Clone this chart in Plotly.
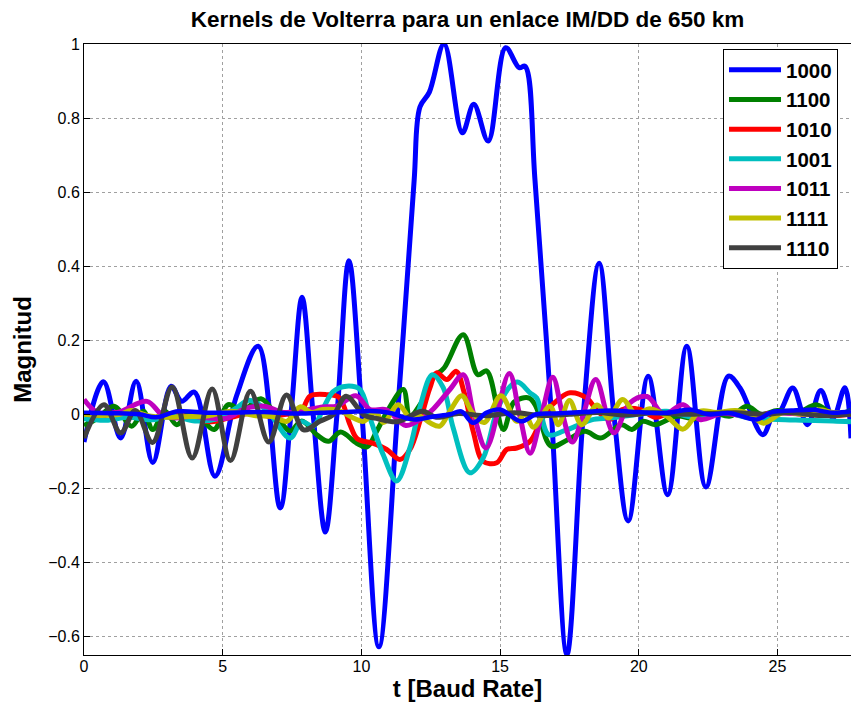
import plotly.graph_objects as go

# ---------------- data ----------------
names = ["1000", "1100", "1010", "1001", "1011", "1111", "1110"]
colors = ["#0000FF", "#008000", "#FF0000", "#00BFBF", "#BF00BF", "#BFBF00", "#404040"]

t_1000 = [0, 0.7, 1.32, 1.88, 2.48, 3.14, 3.52, 3.98, 4.72, 5.5, 6.28, 7.07, 7.46, 7.86, 8.26, 8.7,
          9.12, 9.55, 10.02, 10.63, 11.3, 11.9, 12.11, 12.45, 12.98, 13.64, 14.05, 14.57, 15.2,
          15.69, 15.9, 16.26, 16.85, 17.41, 18.0, 18.57, 19.1, 19.62, 20.34, 21.04, 21.73, 22.42,
          23.23, 23.65, 24.47, 24.85, 25.09, 25.55, 26.08, 26.56, 27.0, 27.43, 27.65]
y_1000 = [-0.075, 0.088, -0.064, 0.089, -0.13, 0.076, 0.035, 0.06, -0.167, 0.05, 0.184, -0.253, 0.0,
          0.316, 0.0, -0.318, 0.0, 0.415, 0.0, -0.628, 0.0, 0.63, 0.83, 0.87, 1.0, 0.76, 0.837, 0.738,
          0.99, 0.936, 0.94, 0.63, 0.0, -0.648, 0.0, 0.408, 0.0, -0.288, 0.103, -0.217, 0.184, -0.196,
          0.103, 0.071, -0.055, 0.0, 0.008, 0.071, -0.028, 0.064, -0.01, 0.072, -0.065]

t_1100 = [0, 0.5, 1.08, 1.72, 2.14, 2.48, 2.92, 3.34, 3.8, 4.2, 4.69, 5.2, 5.7, 6.38, 6.9, 7.43, 7.85,
          8.39, 8.81, 9.25, 9.83, 10.2, 10.55, 10.97, 11.51, 11.75, 12.15, 12.6, 12.98, 13.67, 14.2,
          14.52, 15.12, 15.5, 16.05, 16.3, 16.84, 17.46, 18.06, 18.62, 19.38, 19.75, 20.15, 20.6,
          21.37, 22.0, 22.6, 23.3, 23.9, 24.4, 25.0, 25.7, 26.4, 27.0, 27.65]
y_1100 = [-0.03, -0.01, 0.022, -0.032, 0.008, -0.041, 0.008, -0.028, 0.005, -0.01, -0.041, 0.026, 0.01,
          0.042, 0.0, -0.045, -0.018, -0.055, -0.073, -0.048, -0.078, -0.088, -0.046, 0.013, 0.067,
          -0.005, 0.03, 0.1, 0.125, 0.215, 0.107, 0.117, -0.041, 0.033, 0.044, 0.02, -0.086, -0.068,
          -0.046, -0.064, -0.028, -0.041, -0.019, -0.028, -0.005, -0.012, 0.005, -0.005, 0.022, 0.0,
          0.01, 0.003, 0.026, 0.0, 0.01]

t_1010 = [0, 0.6, 1.2, 1.8, 2.5, 3.2, 3.9, 4.6, 5.3, 6.0, 6.7, 7.3, 7.8, 8.15, 8.75, 9.2, 9.59, 9.85,
          10.4, 10.91, 11.39, 11.75, 12.11, 12.47, 12.71, 13.08, 13.42, 13.7, 14.03, 14.39, 14.88,
          15.24, 15.6, 16.08, 16.4, 16.68, 17.16, 17.52, 18.12, 18.5, 18.96, 19.4, 20.04, 20.6, 21.2,
          22, 23, 24, 25, 26, 27, 27.65]
y_1010 = [0.0, -0.005, 0.005, -0.003, -0.01, 0.003, -0.012, -0.02, -0.008, 0.003, -0.005, 0.0, 0.005,
          0.049, 0.053, 0.045, -0.028, -0.066, -0.078, -0.095, -0.122, -0.095, -0.019, 0.071, 0.112,
          0.094, 0.116, 0.06, -0.046, -0.127, -0.131, -0.095, -0.091, -0.073, -0.03, 0.008, 0.044,
          0.058, 0.044, 0.01, -0.014, 0.013, 0.013, -0.008, 0.005, -0.005, 0.004, -0.006, 0.005, 0.0,
          -0.004, 0.0]

t_1001 = [0, 0.8, 1.6, 2.4, 3.2, 4.0, 4.8, 5.5, 5.95, 6.6, 7.43, 7.85, 8.27, 8.63, 8.99, 9.47, 9.95,
          10.31, 10.79, 11.27, 11.75, 12.11, 12.56, 12.95, 13.31, 13.91, 14.39, 14.88, 15.3, 15.63,
          16.08, 16.32, 16.75, 17.3, 17.8, 18.3, 19, 20, 21, 22, 23, 24, 25, 26, 27, 27.65]
y_1001 = [-0.012, -0.016, -0.008, -0.015, -0.005, -0.018, -0.012, 0.017, 0.038, 0.01, -0.064, -0.02,
          -0.032, 0.017, 0.062, 0.076, 0.067, -0.01, -0.11, -0.18, -0.09, 0.02, 0.107, 0.072, -0.037,
          -0.158, -0.118, 0.008, 0.07, 0.087, 0.058, 0.044, -0.055, -0.045, -0.03, -0.015, -0.01, 0.0,
          0.008, -0.008, 0.005, -0.01, -0.014, -0.016, -0.018, -0.02]

t_1011 = [0, 0.47, 1.2, 2.27, 2.8, 3.3, 3.85, 4.5, 5.17, 5.8, 6.49, 7.2, 7.9, 8.6, 9.11, 9.8, 10.31,
          10.9, 11.6, 12.2, 12.6, 13.19, 13.67, 14.05, 14.5, 15.33, 15.7, 16.08, 16.5, 16.9, 17.25,
          17.6, 18.0, 18.45, 19.1, 19.68, 20.3, 20.9, 21.6, 22.2, 23, 24, 25, 26, 27, 27.65]
y_1011 = [0.04, 0.006, 0.005, 0.035, 0.0, -0.01, -0.005, -0.01, -0.01, 0.015, 0.022, 0.005, 0.01, 0.02,
          0.022, 0.05, 0.013, 0.012, -0.03, -0.01, 0.015, 0.067, 0.107, 0.0, -0.091, 0.11, 0.0,
          -0.105, 0.0, 0.1, 0.0, -0.075, 0.0, 0.094, -0.05, 0.031, 0.048, 0.0, 0.026, -0.014, 0.002,
          -0.005, 0.004, 0.0, 0.003, 0.0]

t_1111 = [0, 0.6, 1.3, 1.7, 2.3, 3.0, 3.8, 4.5, 5.3, 6.2, 6.8, 7.31, 7.79, 8.2, 8.6, 9.2, 9.71, 10.07,
          10.5, 10.8, 11.33, 11.8, 12.1, 12.47, 12.83, 13.2, 13.62, 14.0, 14.43, 15.03, 15.6, 15.9,
          16.2, 16.8, 17.1, 17.5, 17.94, 18.5, 18.9, 19.42, 19.9, 20.4, 21.0, 21.6, 22.2, 22.8, 23.5,
          24.0, 24.5, 25.2, 26, 26.5, 27, 27.65]
y_1111 = [0.0, -0.003, 0.0, 0.01, -0.004, -0.008, -0.006, -0.004, 0.008, -0.004, -0.006, -0.019, 0.02,
          0.005, 0.013, 0.01, -0.01, -0.019, 0.005, -0.022, 0.026, -0.014, -0.005, -0.023, -0.032,
          0.01, 0.05, 0.005, -0.022, 0.05, -0.019, 0.0, -0.035, 0.022, -0.028, 0.037, -0.028, 0.025,
          -0.01, 0.04, 0.0, 0.015, -0.005, -0.04, 0.008, 0.005, 0.01, 0.0, -0.024, 0.005, 0.0, 0.012,
          0.005, 0.005]

t_1110 = [0, 0.72, 1.32, 1.85, 2.47, 3.18, 3.9, 4.62, 5.28, 6.0, 6.66, 7.3, 7.92, 8.5, 9.0, 9.45, 10.1,
          10.6, 11.3, 12.2, 12.7, 13.5, 14.5, 15.5, 16.5, 17.5, 18.5, 19.5, 20.5, 21.5, 22.5, 23.5,
          24.5, 25.5, 26.5, 27.65]
y_1110 = [-0.064, 0.026, -0.05, 0.01, -0.076, 0.074, -0.118, 0.068, -0.125, 0.062, -0.075, 0.052,
          -0.042, -0.019, 0.0, 0.049, -0.002, -0.012, -0.02, 0.008, -0.008, 0.002, -0.004, 0.004,
          -0.003, 0.0, 0.005, -0.002, 0.004, 0.0, 0.002, 0.004, 0.0, 0.005, -0.003, 0.0]

# 8th series (colour cycle wraps to blue, not in legend)
t_extra = [0, 1, 2, 2.6, 3.4, 4.5, 5.5, 6.5, 7.5, 8.5, 9.5, 10.3, 11, 11.87, 12.6, 13.2, 13.6, 14.03,
           14.5, 15.0, 15.75, 16.3, 17, 18, 19, 20, 21, 21.9, 22.5, 23.3, 24.25, 24.8, 25.5, 26.3,
           27, 27.65]
y_extra = [0.004, 0.003, 0.0, -0.008, 0.008, 0.004, 0.005, 0.006, 0.002, 0.004, 0.006, 0.009, 0.004,
           -0.014, -0.006, 0.0, 0.008, -0.023, 0.004, 0.013, -0.019, 0.0, 0.002, 0.006, 0.01, 0.006,
           0.004, 0.012, 0.0, 0.003, -0.014, 0.006, 0.01, 0.012, 0.004, 0.008]

x_ticks = [0, 5, 10, 15, 20, 25]
y_ticks = [-0.6, -0.4, -0.2, 0, 0.2, 0.4, 0.6, 0.8, 1]

series_t = [t_1000, t_1100, t_1010, t_1001, t_1011, t_1111, t_1110]
series_y = [y_1000, y_1100, y_1010, y_1001, y_1011, y_1111, y_1110]

FONT = "Liberation Sans, Arial, sans-serif"

fig = go.Figure()
for name, col, tt, yy in zip(names, colors, series_t, series_y):
    fig.add_trace(go.Scatter(x=tt, y=yy, mode="lines", name="<b>" + name + "</b>",
                             line=dict(color=col, width=5, shape="spline", smoothing=1)))
fig.add_trace(go.Scatter(x=t_extra, y=y_extra, mode="lines", showlegend=False,
                         line=dict(color="#0000FF", width=4.5, shape="spline", smoothing=1)))

fig.update_layout(
    width=851, height=709,
    margin=dict(l=84, r=0, t=44, b=54),
    paper_bgcolor="white", plot_bgcolor="white",
    font=dict(family=FONT, color="black"),
    title=dict(text="<b>Kernels de Volterra para un enlace IM/DD de 650 km</b>",
               font=dict(size=22.5, family=FONT, color="black"),
               x=(84 + 851) / 2 / 851, xanchor="center", y=1 - 19 / 709, yanchor="middle"),
    legend=dict(x=(723 - 84) / 767, y=(655 - 49) / 611, xanchor="left", yanchor="top",
                bgcolor="white", bordercolor="black", borderwidth=1,
                font=dict(size=20.5, family=FONT, color="black"),
                itemwidth=52, tracegroupgap=0),
    xaxis=dict(range=[0, 27.65], tickvals=x_ticks, ticks="inside", ticklen=6,
               tickcolor="black", showline=True, linecolor="black", linewidth=1, mirror=True,
               showgrid=True, gridcolor="#a0a0a0", griddash="dot", gridwidth=1, zeroline=False,
               tickfont=dict(size=16, family=FONT), ticklabelstandoff=-3,
               title=dict(text="<b>t [Baud Rate]</b>", font=dict(size=24, family=FONT), standoff=5)),
    yaxis=dict(range=[-0.65, 1.0], tickvals=y_ticks, ticks="inside", ticklen=6,
               tickcolor="black", showline=True, linecolor="black", linewidth=1, mirror=False,
               showgrid=True, gridcolor="#a0a0a0", griddash="dot", gridwidth=1, zeroline=False,
               tickfont=dict(size=16, family=FONT),
               title=dict(text="<b>Magnitud</b>", font=dict(size=24, family=FONT), standoff=9)),
)

fig.write_html("out.html")
